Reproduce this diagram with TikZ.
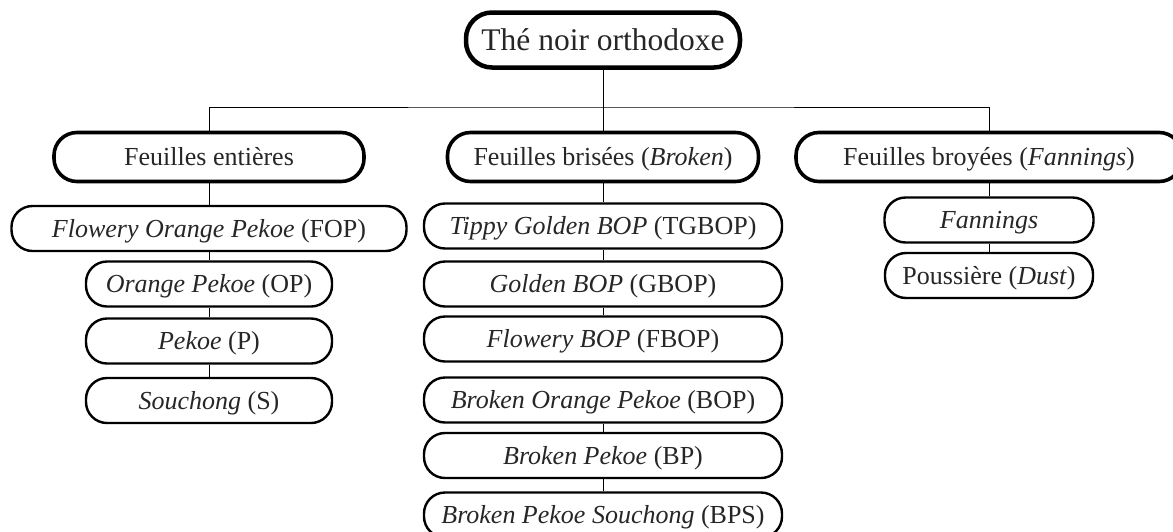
\documentclass[tikz,border=0pt]{standalone}
\usepackage{fontspec}
\setmainfont{Liberation Serif}
\begin{document}
\begin{tikzpicture}[x=1pt,y=1pt,
  base/.style={draw=black, rectangle, inner sep=0pt, text=black!85, align=center},
  titlebox/.style={base, line width=4.5pt, rounded corners=26pt, minimum height=55pt,
    font=\fontsize{31.5}{36}\selectfont, text height=27pt, text depth=6pt},
  catbox/.style={base, line width=3.6pt, rounded corners=23pt, minimum height=49pt,
    font=\fontsize{26}{30}\selectfont, text height=22pt, text depth=5pt},
  gradebox/.style={base, line width=2.4pt, rounded corners=21pt, minimum height=45pt,
    font=\fontsize{26}{30}\selectfont, text height=22pt, text depth=5pt},
  link/.style={draw=black, line width=1pt}]
\useasboundingbox (0,0) rectangle (1173,-531);

\node[titlebox, minimum width=274pt] (root) at (603,-40) {Thé noir orthodoxe};

\node[catbox, minimum width=310pt] (whole) at (209,-157) {Feuilles entières};
\node[catbox, minimum width=311pt] (broken) at (603,-157) {Feuilles brisées (\textit{Broken})};
\node[catbox, minimum width=386pt] (fann) at (989,-157) {Feuilles broyées (\textit{Fannings})};

\node[gradebox, minimum width=395pt] (fop) at (209,-228.5) {\textit{Flowery Orange Pekoe} (FOP)};
\node[gradebox, minimum width=246pt] (op) at (209,-284) {\textit{Orange Pekoe} (OP)};
\node[gradebox, minimum width=246pt] (p) at (209,-341) {\textit{Pekoe} (P)};
\node[gradebox, minimum width=246pt] (s) at (209,-400.5) {\textit{Souchong} (S)};

\node[gradebox, minimum width=358pt] (tgbop) at (603,-226) {\textit{Tippy Golden BOP} (TGBOP)};
\node[gradebox, minimum width=358pt] (gbop) at (603,-284) {\textit{Golden BOP} (GBOP)};
\node[gradebox, minimum width=358pt] (fbop) at (603,-339) {\textit{Flowery BOP} (FBOP)};
\node[gradebox, minimum width=358pt] (bop) at (603,-400) {\textit{Broken Orange Pekoe} (BOP)};
\node[gradebox, minimum width=358pt] (bp) at (603,-455.5) {\textit{Broken Pekoe} (BP)};
\node[gradebox, minimum width=358pt] (bps) at (603,-515) {\textit{Broken Pekoe Souchong} (BPS)};

\node[gradebox, minimum width=209pt] (fng) at (989,-220) {\textit{Fannings}};
\node[gradebox, minimum width=208pt] (dust) at (989,-275.5) {Poussière (\textit{Dust})};

\coordinate (bus) at (603,-107);
\path[link] (root.south) -- (bus);
\path[link] (whole.north) |- (bus) -| (fann.north);
\path[link] (broken.north) -- (bus);

\path[link] (whole) -- (fop);
\path[link] (fop) -- (op);
\path[link] (op) -- (p);
\path[link] (p) -- (s);

\path[link] (broken) -- (tgbop);
\path[link] (tgbop) -- (gbop);
\path[link] (gbop) -- (fbop);
\path[link] (bop) -- (bp);
\path[link] (bp) -- (bps);

\path[link] (fann) -- (fng);
\path[link] (fng) -- (dust);
\end{tikzpicture}
\end{document}
